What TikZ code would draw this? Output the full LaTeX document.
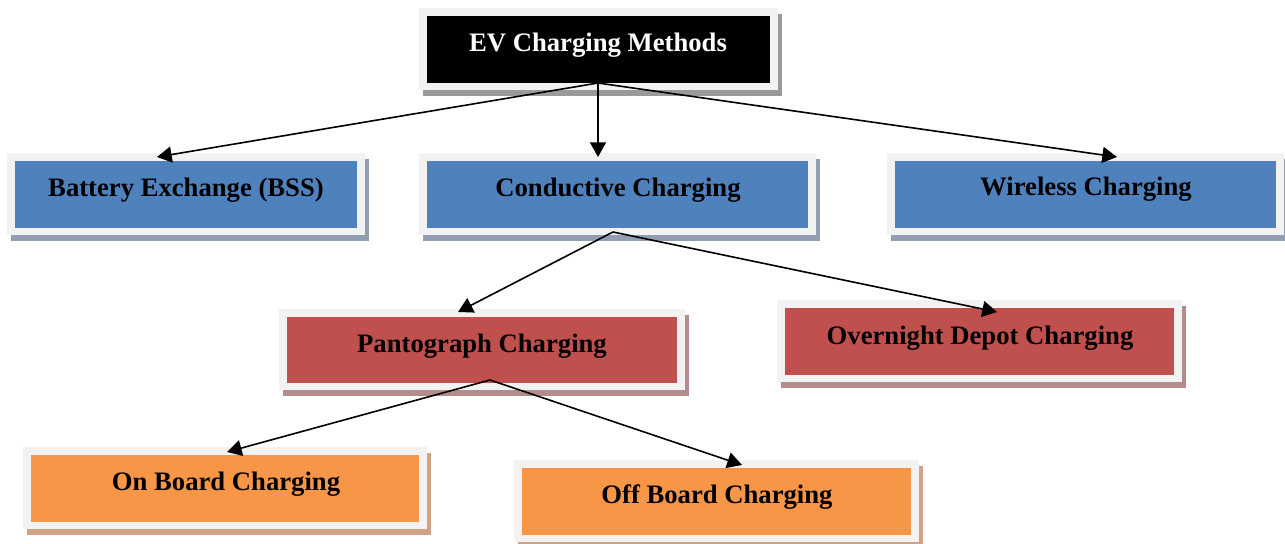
\documentclass[tikz,border=0pt]{standalone}
\usepackage{fontspec}
\setmainfont{Liberation Serif}
\usetikzlibrary{arrows.meta,fit}
\definecolor{cblack}{HTML}{000000}
\definecolor{cblackshadow}{HTML}{9A9A9A}
\definecolor{cblue}{HTML}{4F81BD}
\definecolor{cblueshadow}{HTML}{929FB2}
\definecolor{cred}{HTML}{C0504D}
\definecolor{credshadow}{HTML}{B48C8B}
\definecolor{corange}{HTML}{F79646}
\definecolor{corangeshadow}{HTML}{CFA385}
\definecolor{cframe}{HTML}{F2F2F2}
\tikzset{
  lbl/.style={font=\fontsize{20}{24}\selectfont\bfseries, inner sep=0pt, anchor=base},
  conn/.style={draw=black, line width=1.2pt, -{Triangle[length=11pt,width=12pt]}},
  innerbox/.style={inner sep=0pt, draw=none, fill=#1},
}
\newcommand\cbox[6]{%
  \fill[#6shadow] (#2-8+4,#3-8+6) rectangle (#4+8+4,#5+7+6);
  \fill[cframe] (#2-8,#3-8) rectangle (#4+8,#5+7);
  \node[innerbox=#6, fit={(#2,#3) (#4,#5)}] (#1) {};
}
\begin{document}
\begin{tikzpicture}[x=0.75pt,y=-0.75pt]
\useasboundingbox (0,0) rectangle (1285,543);
% boxes
\cbox{ev}{427}{16}{770}{83}{cblack}
\cbox{bss}{15}{161}{357}{228}{cblue}
\cbox{cond}{427}{161}{808}{228}{cblue}
\cbox{wire}{895}{161}{1276}{228}{cblue}
\cbox{panto}{287}{317}{677}{383}{cred}
\cbox{depot}{785}{308}{1174}{375}{cred}
\cbox{onb}{31}{455}{419}{522}{corange}
\cbox{offb}{522}{468}{911}{535}{corange}
% labels
\node[lbl, text=white] (t-ev) at (598,51) {EV Charging Methods};
\node[lbl] (t-bss) at (186,196) {Battery Exchange (BSS)};
\node[lbl] (t-cond) at (618,196) {Conductive Charging};
\node[lbl] (t-wire) at (1086,195) {Wireless Charging};
\node[lbl] (t-panto) at (482,352) {Pantograph Charging};
\node[lbl] (t-depot) at (980,344) {Overnight Depot Charging};
\node[lbl] (t-onb) at (226,490) {On Board Charging};
\node[lbl] (t-offb) at (717,503) {Off Board Charging};
% connector end points
\coordinate (ev-out) at (598,83);
\coordinate (bss-in) at (157,157);
\coordinate (cond-in) at (598,157);
\coordinate (wire-in) at (1117,157);
\coordinate (cond-out) at (613,232);
\coordinate (panto-in) at (458,312);
\coordinate (depot-in) at (997,312);
\coordinate (panto-out) at (490,380);
\coordinate (onb-in) at (227,452);
\coordinate (offb-in) at (742,465);
% connectors
\draw[conn] (ev-out) -- (bss-in);
\draw[conn] (ev-out) -- (cond-in);
\draw[conn] (ev-out) -- (wire-in);
\draw[conn] (cond-out) -- (panto-in);
\draw[conn] (cond-out) -- (depot-in);
\draw[conn] (panto-out) -- (onb-in);
\draw[conn] (panto-out) -- (offb-in);
\end{tikzpicture}
\end{document}
